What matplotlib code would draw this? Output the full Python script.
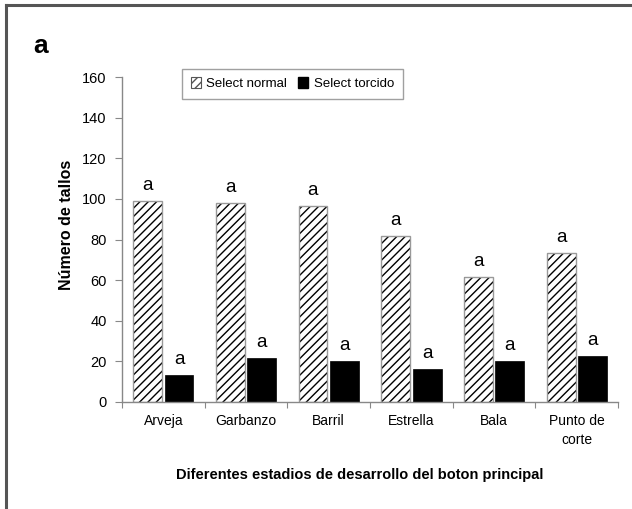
import matplotlib
import numpy as np

matplotlib.use("Agg")
import matplotlib.pyplot as plt
from matplotlib.lines import Line2D
from matplotlib.patches import Patch

plt.rcParams["font.family"] = ["Liberation Sans", "DejaVu Sans"]
plt.rcParams["hatch.linewidth"] = 1.0

estadios = ["Arveja", "Garbanzo", "Barril", "Estrella", "Bala", "Punto de\ncorte"]
normal = [99, 98, 96.5, 81.5, 61.5, 73.5]
torcido = [13, 21.5, 20, 16, 20, 22.5]
letras_normal = ["a", "a", "a", "a", "a", "a"]
letras_torcido = ["a", "a", "a", "a", "a", "a"]

fig = plt.figure(figsize=(6.32, 5.09), dpi=100)
ax = fig.add_axes([0.193, 0.2108, 0.785, 0.6373])

x = np.arange(len(estadios))
w = 0.35
off = 0.19
# hatched fill, then a grey outline on top
ax.bar(x - off, normal, w, color="white", edgecolor="black", hatch="////", linewidth=0)
ax.bar(x - off, normal, w, fill=False, edgecolor="#999999", linewidth=1.0)
ax.bar(x + off, torcido, w, color="black", edgecolor="black", linewidth=0.5)

for xi, v, t in zip(x - off, normal, letras_normal):
    ax.text(xi, v + 3.5, t, ha="center", va="bottom", fontsize=13.5)
for xi, v, t in zip(x + off, torcido, letras_torcido):
    ax.text(xi, v + 3.5, t, ha="center", va="bottom", fontsize=13.5)

ax.set_xlim(-0.5, 5.5)
ax.set_ylim(0, 160)
ax.set_yticks(np.arange(0, 161, 20))
ax.set_xticks(np.arange(-0.5, 5.6, 1))
ax.set_xticklabels([])
ax.set_xticks(x, minor=True)
ax.set_xticklabels(estadios, minor=True, fontsize=10, linespacing=1.4)
ax.tick_params(axis="x", which="minor", length=0, pad=9)
ax.tick_params(axis="x", which="major", length=4, color="#888888")
ax.tick_params(axis="y", length=5, color="#888888", labelsize=10.5, pad=6)
for s in ("top", "right"):
    ax.spines[s].set_visible(False)
for s in ("left", "bottom"):
    ax.spines[s].set_color("#888888")
    ax.spines[s].set_linewidth(1.0)

ax.set_xlabel("Diferentes estadios de desarrollo del boton principal",
              fontsize=10.5, fontweight="bold")
ax.xaxis.set_label_coords(0.48, -0.205)
ax.set_ylabel("Número de tallos", fontsize=11.5, fontweight="bold")
ax.yaxis.set_label_coords(-0.097, 0.545)

handles = [Patch(facecolor="white", edgecolor="#555555", hatch="////", linewidth=0.8),
           Patch(facecolor="black", edgecolor="black")]
ax.legend(handles, ["Select normal", "Select torcido"], ncol=2, loc="upper left",
          bbox_to_anchor=(0.121, 1.026), fontsize=9.5, frameon=True, fancybox=False,
          edgecolor="#888888", handlelength=0.8, handleheight=0.8, handletextpad=0.4,
          columnspacing=0.8, borderpad=0.65, borderaxespad=0)

fig.text(0.052, 0.91, "a", fontsize=19, fontweight="bold", ha="left", va="center")

# frame lines along the top and left edges
fig.add_artist(Line2D([0.009, 1.0], [0.99, 0.99], color="#555555", linewidth=2.2))
fig.add_artist(Line2D([0.009, 0.009], [0.0, 0.99], color="#555555", linewidth=2.2))

fig.savefig("out.png", dpi=100)
